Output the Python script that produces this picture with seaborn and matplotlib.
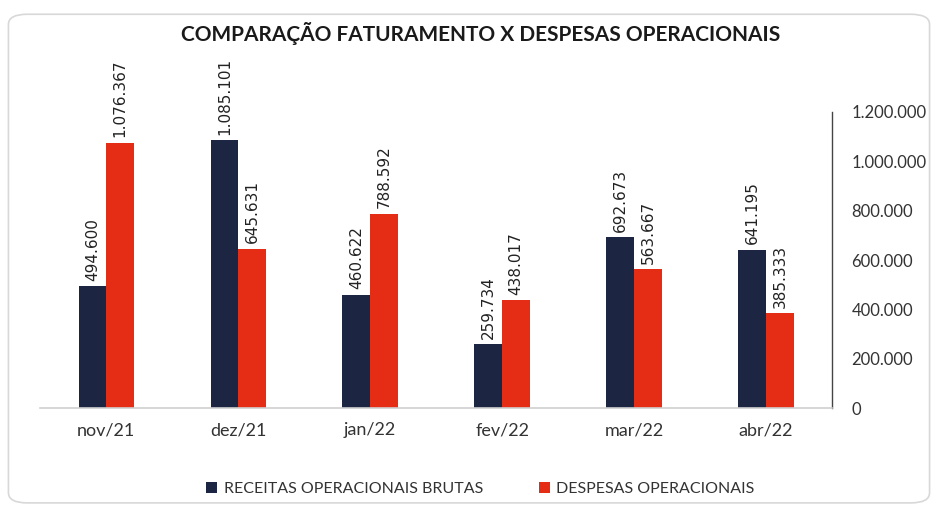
import numpy as np
import pandas as pd
import matplotlib
matplotlib.use('Agg')
import matplotlib.pyplot as plt
import seaborn as sns
from matplotlib.patches import FancyBboxPatch, Patch

meses = ['nov/21', 'dez/21', 'jan/22', 'fev/22', 'mar/22', 'abr/22']
receitas = [494600, 1085101, 460622, 259734, 692673, 641195]
despesas = [1076367, 645631, 788592, 438017, 563667, 385333]
series = ['RECEITAS OPERACIONAIS BRUTAS', 'DESPESAS OPERACIONAIS']
cores = ['#1c2541', '#e42d14']
yticks = [0, 200000, 400000, 600000, 800000, 1000000, 1200000]


def fmt(v):
    return f'{int(v):,}'.replace(',', '.')


def main():
    df = pd.DataFrame({
        'mes': meses * 2,
        'valor': receitas + despesas,
        'serie': [series[0]] * len(meses) + [series[1]] * len(meses),
    })

    sns.set_style('white')
    plt.rcParams['font.family'] = ['Lato', 'DejaVu Sans']

    fig = plt.figure(figsize=(9.38, 5.09), dpi=100)
    ax = fig.add_axes([0.043, 0.198, 0.844, 0.582])

    sns.barplot(data=df, x='mes', y='valor', hue='serie', palette=cores,
                width=0.42, gap=0, dodge=True, saturation=1, linewidth=0,
                edgecolor='none', ax=ax, legend=False)

    for cont in ax.containers:
        vals = [b.get_height() for b in cont]
        ax.bar_label(cont, labels=[fmt(v) for v in vals], rotation=90, padding=4,
                     fontsize=11, color='#222222', family='DejaVu Sans')

    ax.set_ylim(0, 1200000)
    ax.set_xlim(-0.5, len(meses) - 0.5)
    ax.set_yticks(yticks)
    ax.set_yticklabels([fmt(v) for v in yticks])
    ax.yaxis.tick_right()
    ax.set_xlabel('')
    ax.set_ylabel('')

    for s in ['left', 'top']:
        ax.spines[s].set_visible(False)
    ax.spines['right'].set_color('#444444')
    ax.spines['right'].set_linewidth(1.0)
    ax.spines['bottom'].set_color('#d0d0d0')
    ax.spines['bottom'].set_linewidth(1.2)

    ax.tick_params(axis='y', length=0, pad=14, labelsize=12, labelcolor='#333333')
    ax.tick_params(axis='x', which='major', length=0, pad=10, labelsize=13, labelcolor='#333333')
    ax.set_xticks(np.arange(-0.5, len(meses)), minor=True)
    ax.tick_params(axis='x', which='minor', length=5, color='#d0d0d0', width=1.2)

    fig.text(0.512, 0.935, 'COMPARAÇÃO FATURAMENTO X DESPESAS OPERACIONAIS',
             ha='center', va='center', fontsize=15, fontweight='bold', color='#1a1a1a')

    handles = [Patch(facecolor=c, edgecolor='none') for c in cores]
    fig.legend(handles, series, loc='center', bbox_to_anchor=(0.512, 0.039), ncol=2,
               frameon=False, fontsize=11.5, handlelength=0.7, handleheight=0.7,
               columnspacing=3.5, handletextpad=0.4, labelcolor='#333333')

    border = FancyBboxPatch((0.009, 0.012), 0.982, 0.96, boxstyle='round,pad=0,rounding_size=0.02',
                            transform=fig.transFigure, facecolor='none', edgecolor='#d8d8d8',
                            linewidth=1.2)
    fig.patches.append(border)

    fig.savefig('out.png', dpi=100)


if __name__ == '__main__':
    main()
